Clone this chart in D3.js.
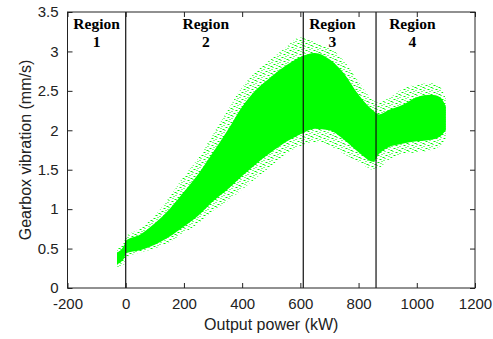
<!DOCTYPE html>
<html>
<head>
<meta charset="utf-8">
<script src="https://cdn.jsdelivr.net/npm/d3@7"></script>
<style>
  body { margin: 0; background: #fff; }
  svg { display: block; }
</style>
</head>
<body>
<div id="chart"></div>
<script>
// envelope of the scatter cloud (kW, mm/s)
const power     = [-30, -5, 0, 50, 100, 150, 200, 250, 300, 350, 400, 450, 500, 550, 600, 650, 700, 750, 800, 850, 870, 900, 950, 1000, 1050, 1080, 1100];
const denseLow  = [0.30, 0.38, 0.44, 0.48, 0.55, 0.65, 0.78, 0.92, 1.10, 1.25, 1.42, 1.58, 1.72, 1.85, 1.95, 2.02, 2.00, 1.88, 1.72, 1.60, 1.70, 1.78, 1.83, 1.86, 1.88, 1.92, 2.00];
const denseHigh = [0.45, 0.55, 0.60, 0.68, 0.82, 1.00, 1.22, 1.45, 1.72, 2.00, 2.30, 2.52, 2.68, 2.82, 2.93, 2.98, 2.90, 2.72, 2.45, 2.25, 2.20, 2.25, 2.32, 2.42, 2.45, 2.42, 2.30];
const sparseLow = [0.26, 0.30, 0.38, 0.45, 0.50, 0.58, 0.70, 0.82, 0.98, 1.10, 1.25, 1.40, 1.55, 1.70, 1.80, 1.85, 1.80, 1.70, 1.60, 1.50, 1.52, 1.62, 1.70, 1.72, 1.75, 1.80, 1.90];
const sparseHigh= [0.50, 0.60, 0.65, 0.75, 0.92, 1.15, 1.42, 1.65, 1.95, 2.25, 2.55, 2.75, 2.90, 3.05, 3.18, 3.12, 3.05, 2.88, 2.62, 2.38, 2.35, 2.40, 2.52, 2.58, 2.60, 2.55, 2.40];

const regionBounds = [0, 610, 860];
const regionNames  = ["1", "2", "3", "4"];
const regionLabelX = [-100, 275, 710, 985];

const xTicks = [-200, 0, 200, 400, 600, 800, 1000, 1200];
const yTicks = [0, 0.5, 1, 1.5, 2, 2.5, 3, 3.5];

const width = 493, height = 339;
const margin = { top: 12, right: 18, bottom: 51, left: 67.5 };
const w = width - margin.left - margin.right;
const h = height - margin.top - margin.bottom;

const svg = d3.select("#chart").append("svg")
  .attr("width", width)
  .attr("height", height);

const defs = svg.append("defs");
defs.append("clipPath").attr("id", "clip")
  .append("rect").attr("width", w).attr("height", h);

// speckle texture for the thin fringe of the cloud
const pat = defs.append("pattern")
  .attr("id", "speckle")
  .attr("patternUnits", "userSpaceOnUse")
  .attr("width", 8).attr("height", 7);
[[0, 0, 2, 1], [4, 1, 1, 1], [6, 3, 2, 1], [1, 4, 1, 1], [3, 5, 2, 1], [5, 6, 1, 1], [2, 2, 1, 1]]
  .forEach(([px, py, pw, ph]) => {
    pat.append("rect")
      .attr("x", px).attr("y", py)
      .attr("width", pw).attr("height", ph)
      .attr("fill", "#00ff00");
  });

const g = svg.append("g")
  .attr("transform", `translate(${margin.left},${margin.top})`);

const x = d3.scaleLinear().domain([-200, 1200]).range([0, w]);
const y = d3.scaleLinear().domain([0, 3.5]).range([h, 0]);

const idx = d3.range(power.length);

const sparseArea = d3.area()
  .x(i => x(power[i]))
  .y0(i => y(sparseLow[i]))
  .y1(i => y(sparseHigh[i]))
  .curve(d3.curveMonotoneX);

const denseArea = d3.area()
  .x(i => x(power[i]))
  .y0(i => y(denseLow[i]))
  .y1(i => y(denseHigh[i]))
  .curve(d3.curveMonotoneX);

const cloud = g.append("g").attr("clip-path", "url(#clip)");
cloud.append("path")
  .datum(idx)
  .attr("fill", "url(#speckle)")
  .attr("d", sparseArea);
cloud.append("path")
  .datum(idx)
  .attr("fill", "#00ff00")
  .attr("d", denseArea);

// region separators
g.selectAll(".region-line")
  .data(regionBounds)
  .enter()
  .append("line")
  .attr("class", "region-line")
  .attr("x1", d => x(d))
  .attr("x2", d => x(d))
  .attr("y1", 0)
  .attr("y2", h)
  .attr("stroke", "#111")
  .attr("stroke-width", 1.2);

const labels = g.selectAll(".region-label")
  .data(regionNames)
  .enter()
  .append("text")
  .attr("class", "region-label")
  .attr("text-anchor", "middle")
  .style("font-family", "'Liberation Serif', 'Times New Roman', serif")
  .style("font-weight", "bold")
  .style("font-size", "15.5px")
  .style("fill", "#000");
labels.append("tspan")
  .attr("x", (d, i) => x(regionLabelX[i]))
  .attr("y", 17)
  .text("Region");
labels.append("tspan")
  .attr("x", (d, i) => x(regionLabelX[i]))
  .attr("y", 34.5)
  .text(d => d);

// axes with inward ticks on all four sides
const tickStyle = sel => {
  sel.select(".domain").remove();
  sel.selectAll("line").attr("stroke", "#222");
  sel.selectAll("text")
    .style("font-family", "'Liberation Sans', Arial, sans-serif")
    .style("font-size", "15px")
    .style("fill", "#222");
};

g.append("g")
  .attr("transform", `translate(0,${h})`)
  .call(d3.axisBottom(x).tickValues(xTicks).tickSize(-5).tickPadding(10).tickFormat(d => String(d)))
  .call(tickStyle);
g.append("g")
  .call(d3.axisTop(x).tickValues(xTicks).tickSize(-5).tickFormat(""))
  .call(tickStyle);
g.append("g")
  .call(d3.axisLeft(y).tickValues(yTicks).tickSize(-5).tickPadding(9).tickFormat(d => String(d)))
  .call(tickStyle);
g.append("g")
  .attr("transform", `translate(${w},0)`)
  .call(d3.axisRight(y).tickValues(yTicks).tickSize(-5).tickFormat(""))
  .call(tickStyle);

g.append("rect")
  .attr("width", w)
  .attr("height", h)
  .attr("fill", "none")
  .attr("stroke", "#222")
  .attr("stroke-width", 1);

g.append("text")
  .attr("x", w / 2)
  .attr("y", h + 42)
  .attr("text-anchor", "middle")
  .style("font-family", "'Liberation Sans', Arial, sans-serif")
  .style("font-size", "16px")
  .style("fill", "#222")
  .text("Output power (kW)");

g.append("text")
  .attr("transform", "rotate(-90)")
  .attr("x", -h / 2)
  .attr("y", -37)
  .attr("text-anchor", "middle")
  .style("font-family", "'Liberation Sans', Arial, sans-serif")
  .style("font-size", "16px")
  .style("fill", "#222")
  .text("Gearbox vibration (mm/s)");
</script>
</body>
</html>
